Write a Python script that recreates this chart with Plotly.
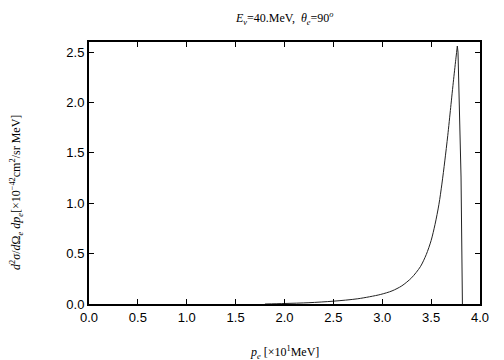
import plotly.graph_objects as go

p_e = [1.8, 2.0, 2.25, 2.5, 2.75, 2.98, 3.1, 3.2, 3.3, 3.39, 3.45, 3.5, 3.54, 3.58, 3.61, 3.64,
       3.67, 3.70, 3.73, 3.755, 3.768, 3.775, 3.806, 3.82]
xsec = [0.0, 0.005, 0.013, 0.028, 0.052, 0.094, 0.13, 0.18, 0.26, 0.37, 0.49, 0.63, 0.79, 0.99, 1.19, 1.42,
        1.67, 1.95, 2.23, 2.45, 2.56, 2.50, 1.26, 0.0]
peak_index = 20  # index of the maximum; rising part drawn smooth, the cut-off drawn straight

x_ticks = [0.0, 0.5, 1.0, 1.5, 2.0, 2.5, 3.0, 3.5, 4.0]
y_ticks = [0.0, 0.5, 1.0, 1.5, 2.0, 2.5]

fig = go.Figure()
fig.add_trace(go.Scatter(x=p_e[:peak_index + 1], y=xsec[:peak_index + 1], mode="lines",
                         line=dict(color="#222222", width=1, shape="spline", smoothing=0.8),
                         showlegend=False))
fig.add_trace(go.Scatter(x=p_e[peak_index:], y=xsec[peak_index:], mode="lines",
                         line=dict(color="#222222", width=1), showlegend=False))

axis_common = dict(showline=True, linecolor="black", linewidth=2, mirror="ticks",
                   ticks="inside", ticklen=5, tickwidth=1, tickcolor="black",
                   showgrid=False, zeroline=False,
                   tickfont=dict(family="Liberation Sans, Arial", size=13, color="black"))

fig.update_xaxes(range=[0, 4.0], tickvals=x_ticks,
                 ticktext=[f"{v:.1f}" for v in x_ticks], **axis_common)
fig.update_yaxes(range=[0, 2.6], tickvals=y_ticks,
                 ticktext=[f"{v:.1f}" for v in y_ticks], **axis_common)

serif = dict(family="Liberation Serif, Times New Roman", size=12, color="black")
fig.update_layout(
    width=496, height=352,
    margin=dict(l=81, r=24, t=34, b=56),
    paper_bgcolor="white", plot_bgcolor="white",
    annotations=[
        dict(text="<i>E<sub>ν</sub></i>=40.MeV,  <i>θ<sub>e</sub></i>=90<sup><i>o</i></sup>",
             xref="paper", yref="paper", x=0.5, y=1.0, yshift=24,
             showarrow=False, font=serif, xanchor="center", yanchor="middle"),
        dict(text="<i>p<sub>e</sub></i> [×10<sup>1</sup>MeV]",
             xref="paper", yref="paper", x=0.5, y=0, yshift=-48,
             showarrow=False, font=serif, xanchor="center", yanchor="middle"),
        dict(text="<i>d</i><sup>2</sup><i>σ</i>/<i>d</i>Ω<sub><i>e</i></sub> <i>dp<sub>e</sub></i>[×10<sup>−42</sup>cm<sup>2</sup>/sr MeV]",
             xref="paper", yref="paper", x=0, y=0.424, xshift=-72,
             textangle=-90,
             showarrow=False, font=serif, xanchor="center", yanchor="middle"),
    ],
)

fig.write_html("out.html")
